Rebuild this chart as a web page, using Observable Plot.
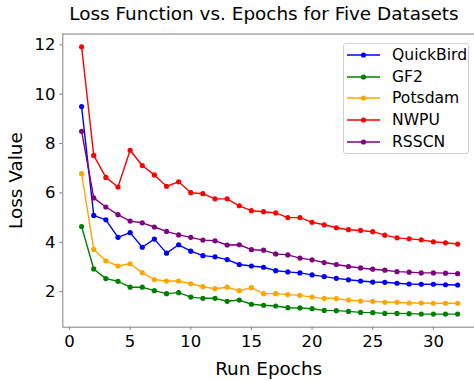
<!DOCTYPE html>
<html><head><meta charset="utf-8">
<script src="https://cdn.jsdelivr.net/npm/d3@7"></script>
<script src="https://cdn.jsdelivr.net/npm/@observablehq/plot@0.6"></script>
<style>
body{margin:0;background:#fff;font-family:"DejaVu Sans",sans-serif;}
#wrap{position:relative;width:474px;height:381px;overflow:hidden;background:#fff;}
#title{position:absolute;left:264px;top:5px;transform:translateX(-50%);font-size:18.4px;line-height:18.4px;color:#000;white-space:nowrap;}
#chart{position:absolute;left:0;top:33px;}
#legend{position:absolute;left:343px;top:42.7px;width:124px;height:109px;border:1px solid #d0d0d0;border-radius:3px;background:rgba(255,255,255,0.85);}
.item{position:absolute;left:0;height:20px;width:124px;}
.item svg{position:absolute;left:3px;top:0;}
.item span{position:absolute;left:48px;top:0;font-size:15.6px;line-height:20px;color:#000;white-space:nowrap;}
</style>
</head><body>
<div id="wrap">
  <div id="title">Loss Function vs. Epochs for Five Datasets</div>
  <div id="chart"></div>
  <div id="legend"></div>
</div>
<script>
const epochs = [1,2,3,4,5,6,7,8,9,10,11,12,13,14,15,16,17,18,19,20,21,22,23,24,25,26,27,28,29,30,31,32];
const quickbird = [9.50,5.09,4.91,4.20,4.39,3.80,4.13,3.56,3.90,3.64,3.46,3.41,3.30,3.10,3.04,2.99,2.85,2.80,2.76,2.68,2.61,2.54,2.48,2.43,2.39,2.38,2.34,2.31,2.30,2.30,2.28,2.27];
const gf2 = [4.64,2.92,2.53,2.42,2.18,2.18,2.04,1.92,1.96,1.78,1.73,1.73,1.61,1.66,1.49,1.45,1.42,1.35,1.34,1.31,1.24,1.23,1.20,1.16,1.15,1.12,1.12,1.11,1.09,1.09,1.09,1.09];
const potsdam = [6.78,3.71,3.25,3.04,3.13,2.77,2.49,2.43,2.43,2.32,2.20,2.12,2.18,2.04,2.16,1.92,1.92,1.88,1.85,1.78,1.73,1.72,1.66,1.62,1.61,1.57,1.57,1.54,1.54,1.53,1.53,1.53];
const nwpu = [11.92,7.52,6.63,6.24,7.73,7.11,6.73,6.27,6.45,6.01,5.97,5.76,5.76,5.48,5.28,5.24,5.19,5.00,5.00,4.81,4.71,4.59,4.51,4.48,4.43,4.29,4.18,4.14,4.10,4.02,3.98,3.93];
const rsscn = [8.50,5.80,5.43,5.12,4.86,4.79,4.62,4.44,4.30,4.20,4.09,4.06,3.89,3.90,3.70,3.68,3.53,3.49,3.36,3.29,3.18,3.10,3.02,2.96,2.91,2.87,2.81,2.79,2.76,2.76,2.75,2.73];
const seriesNames = ["QuickBird","GF2","Potsdam","NWPU","RSSCN"];
const seriesColors = ["blue","green","orange","red","purple"];
const seriesValues = [quickbird, gf2, potsdam, nwpu, rsscn];
const xTicks = [0,5,10,15,20,25,30];
const yTicks = [2,4,6,8,10,12];
const xLabel = "Run Epochs";
const yLabel = "Loss Value";
const xDomain = [-0.55, 33.39];
const yDomain = [0.56, 12.44];

const marks = [];
const frameColor = "#808080";
marks.push(Plot.ruleY([yDomain[0], yDomain[1]], {stroke: frameColor, strokeWidth: 1}));
marks.push(Plot.ruleX([xDomain[0]], {stroke: frameColor, strokeWidth: 1}));
seriesNames.forEach((name, i) => {
  const data = epochs.map((e, j) => ({epoch: e, loss: seriesValues[i][j]}));
  marks.push(Plot.line(data, {x: "epoch", y: "loss", stroke: seriesColors[i], strokeWidth: 1.4}));
  marks.push(Plot.dot(data, {x: "epoch", y: "loss", fill: seriesColors[i], r: 2.6, stroke: "none"}));
});
marks.push(Plot.axisX({ticks: xTicks, tickSize: 3, tickPadding: 5, fontSize: 16.5, stroke: frameColor, color: "#000",
  label: xLabel, labelArrow: "none", labelAnchor: "center", labelOffset: 48}));
marks.push(Plot.axisY({ticks: yTicks, tickSize: 3, tickPadding: 4.3, fontSize: 16.5, stroke: frameColor, color: "#000",
  label: yLabel, labelArrow: "none", labelAnchor: "center", labelOffset: 54}));

const chart = Plot.plot({
  width: 474,
  height: 348,
  marginLeft: 62.3,
  marginRight: 0,
  marginTop: 0.5,
  marginBottom: 54.3,
  style: {fontFamily: "DejaVu Sans", fontSize: "16.5px", background: "transparent", overflow: "visible"},
  x: {domain: xDomain},
  y: {domain: yDomain},
  marks
});
const xl = chart.querySelector('[aria-label="x-axis label"] text');
if (xl) { xl.textContent = xLabel; xl.setAttribute("font-size", "18.4"); }
const yl = chart.querySelector('[aria-label="y-axis label"] text');
if (yl) { yl.textContent = yLabel; yl.setAttribute("font-size", "18.4"); }
document.getElementById("chart").appendChild(chart);

const legend = document.getElementById("legend");
seriesNames.forEach((name, i) => {
  const item = document.createElement("div");
  item.className = "item";
  item.style.top = (1.6 + i * 21.6) + "px";
  item.innerHTML = `<svg width="34" height="20"><line x1="0" y1="10" x2="33" y2="10" stroke="${seriesColors[i]}" stroke-width="1.4"/><circle cx="16.5" cy="10" r="2.6" fill="${seriesColors[i]}"/></svg><span>${name}</span>`;
  legend.appendChild(item);
});
</script>
</body></html>
